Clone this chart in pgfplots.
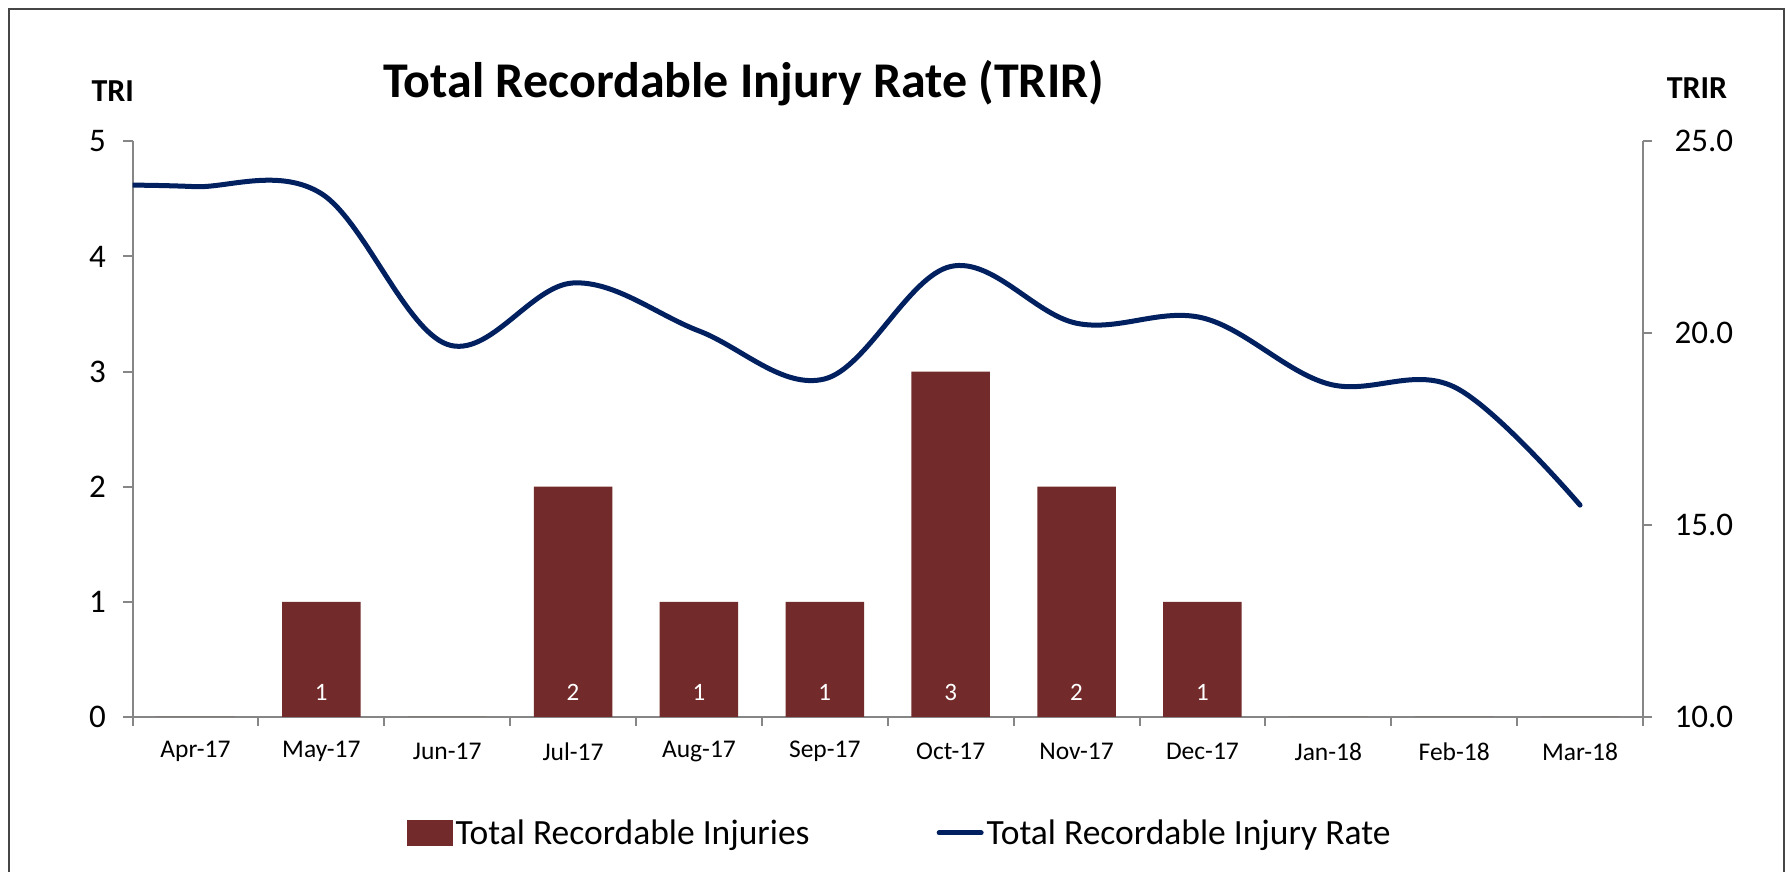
\documentclass[border=0pt]{standalone}
\usepackage{fontspec}
\setmainfont{Carlito}
\usepackage{pgfplots}
\pgfplotsset{compat=1.18}
\definecolor{barred}{RGB}{114,43,42}
\definecolor{navy}{RGB}{0,32,96}
\definecolor{axisgray}{RGB}{134,134,134}
\definecolor{framegray}{RGB}{70,70,70}
\begin{document}
\begin{tikzpicture}[x=1pt,y=1pt]
\useasboundingbox (0,0) rectangle (1787,872);
\fill[white] (0,0) rectangle (1787,872);
\draw[framegray, line width=2.5pt] (9,-10) -- (9,863) -- (1784,863) -- (1784,-10);
\pgfplotsset{
  common/.style={
    at={(132.5pt,155.1pt)}, anchor=south west,
    scale only axis, width=1510.5pt, height=575.5pt,
    xmin=-0.5, xmax=11.5,
    axis line style={axisgray, line width=2pt},
    tick align=outside,
    major tick length=9pt, minor tick length=9pt,
    tick style={axisgray, line width=2pt},
    /pgf/number format/assume math mode=true,
  }
}
\begin{axis}[common,
  ymin=0, ymax=5,
  axis x line*=bottom, axis y line*=left,
  ytick={0,1,2,3,4,5}, yticklabels={0,1,2,3,4,5},
  xtick={0,...,11},
  xticklabels={Apr-17,May-17,Jun-17,Jul-17,Aug-17,Sep-17,Oct-17,Nov-17,Dec-17,Jan-18,Feb-18,Mar-18},
  minor xtick={-0.5,0.5,1.5,2.5,3.5,4.5,5.5,6.5,7.5,8.5,9.5,10.5,11.5},
  major x tick style={draw=none},
  yticklabel style={font=\fontsize{33}{33}\selectfont, text=black, anchor=east, xshift=-14pt},
  xticklabel style={font=\fontsize{25.5}{25.5}\selectfont, text=black, anchor=center, yshift=-25.5pt},
]
\addplot[ybar, bar width=78.5pt, fill=barred, draw=none] coordinates {
(0,0) (1,1) (2,0) (3,2) (4,1) (5,1) (6,3) (7,2) (8,1) (9,0) (10,0) (11,0)};
\addplot[draw=none, nodes near coords, point meta=explicit symbolic,
  every node near coord/.style={anchor=center, text=white, font=\fontsize{25}{25}\selectfont}]
  coordinates {(1,0.216)[1] (3,0.216)[2] (4,0.216)[1] (5,0.216)[1] (6,0.216)[3] (7,0.216)[2] (8,0.216)[1]};
\end{axis}
\begin{axis}[common,
  ymin=10, ymax=25,
  axis y line*=right, axis x line=none,
  ytick={10,15,20,25}, yticklabels={10.0,15.0,20.0,25.0},
  yticklabel style={font=\fontsize{33}{33}\selectfont, text=black, anchor=west, xshift=19pt},
  legend style={at={(0.1817,-0.2017)}, anchor=west, draw=none, fill=none,
    inner sep=0pt, legend columns=2,
    font=\fontsize{35.5}{35.5}\selectfont,
    nodes={inner xsep=3pt, inner ysep=0pt},
    /tikz/every even column/.append style={column sep=124pt}},
]
\addlegendimage{legend image code/.code={\fill[barred] (0pt,-12.5pt) rectangle (45pt,12.5pt);}}
\addlegendentry{Total Recordable Injuries}
\addplot[navy, line width=5pt, line cap=round, smooth, tension=0.6,
  legend image code/.code={\draw[navy, line width=5pt, line cap=round] (2pt,0pt) -- (44pt,0pt);}]
  coordinates {
(-0.5,23.86) (0,23.82) (1,23.64) (2,19.71) (3,21.31) (4,20.06) (5,18.81)
(6,21.74) (7,20.26) (8,20.40) (9,18.68) (10,18.60) (11,15.52)};
\addlegendentry{Total Recordable Injury Rate}
\end{axis}
\node[anchor=base, font=\fontsize{50}{50}\selectfont\bfseries] at (743.7,774) {Total Recordable Injury Rate (TRIR)};
\node[anchor=base, font=\fontsize{32}{32}\selectfont\bfseries] at (112.8,770) {TRI};
\node[anchor=base, font=\fontsize{32}{32}\selectfont\bfseries] at (1697,773) {TRIR};
\end{tikzpicture}
\end{document}
